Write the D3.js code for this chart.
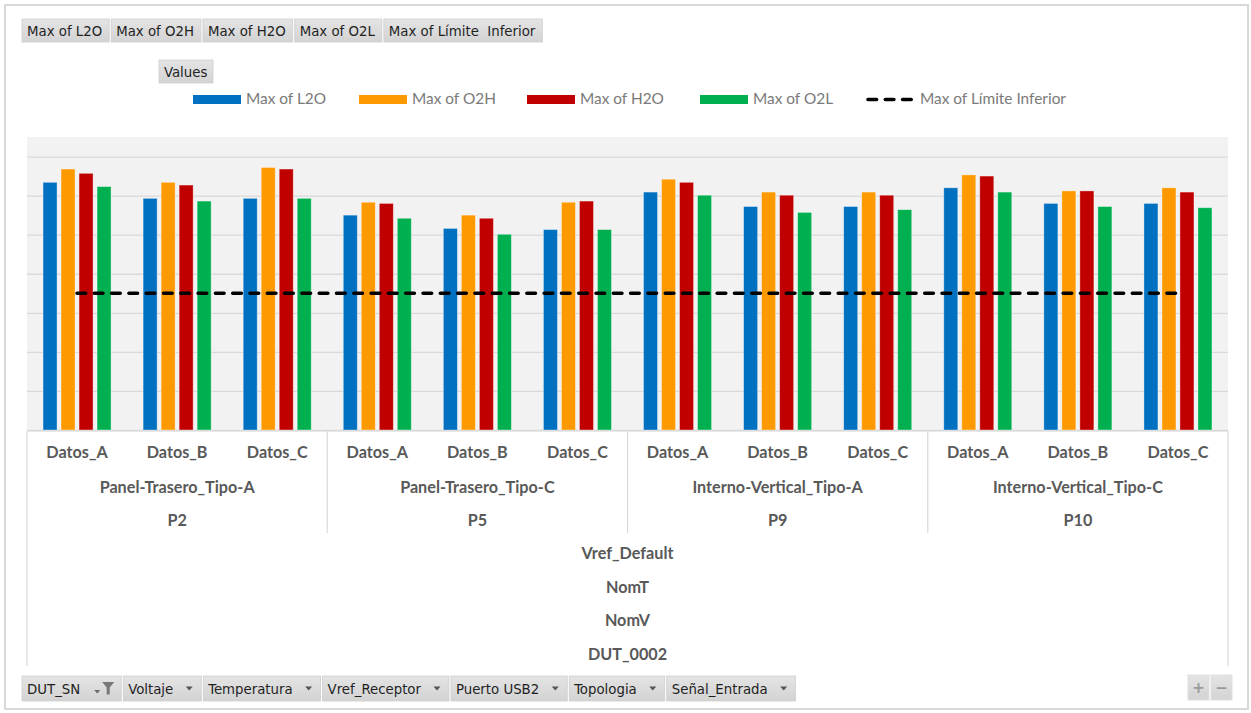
<!DOCTYPE html>
<html>
<head>
<meta charset="utf-8">
<script src="https://cdn.jsdelivr.net/npm/d3@7"></script>
<style>
  body { margin: 0; background: #fff; }
  svg { display: block; }
  .btn-text { font-family: "DejaVu Sans Condensed", "Liberation Sans Narrow", "DejaVu Sans", sans-serif; font-size: 14.8px; fill: #1f1f1f; white-space: pre; }
  .legend-text { font-family: Lato, "Open Sans", sans-serif; font-size: 15.4px; fill: #7a7a7a; }
  .cat-text { font-family: Lato, "Open Sans", sans-serif; font-size: 16.2px; font-weight: 700; fill: #595959; }
</style>
</head>
<body>
<svg id="chart" width="1251" height="713"></svg>
<script>
// ---- Data -------------------------------------------------------------
const ports      = ["P2", "P5", "P9", "P10"];
const topologies = ["Panel-Trasero_Tipo-A", "Panel-Trasero_Tipo-C", "Interno-Vertical_Tipo-A", "Interno-Vertical_Tipo-C"];
const datasets   = ["Datos_A", "Datos_B", "Datos_C"];
const outerLevels = ["Vref_Default", "NomT", "NomV", "DUT_0002"];

const seriesNames  = ["Max of L2O", "Max of O2H", "Max of H2O", "Max of O2L"];
const seriesColors = ["#0070c0", "#ff9900", "#c00000", "#00b050"];

// one value per category, in port → dataset order
const maxL2O = [63.4, 59.3, 59.3, 55.0, 51.6, 51.3, 60.9, 57.2, 57.2, 62.0, 58.0, 58.0];
const maxO2H = [66.8, 63.4, 67.2, 58.3, 55.0, 58.3, 64.2, 60.9, 60.9, 65.3, 61.2, 62.0];
const maxH2O = [65.7, 62.7, 66.8, 58.0, 54.2, 58.6, 63.4, 60.1, 60.1, 65.0, 61.2, 60.9];
const maxO2L = [62.3, 58.6, 59.3, 54.2, 50.1, 51.3, 60.1, 55.7, 56.4, 60.9, 57.2, 56.9];
const limiteInferior = [35, 35, 35, 35, 35, 35, 35, 35, 35, 35, 35, 35];
const limiteName = "Max of Límite Inferior";

const valueTicks = [0, 10, 20, 30, 40, 50, 60, 70];
const valueMax = 75;

const fieldButtons  = ["Max of L2O", "Max of O2H", "Max of H2O", "Max of O2L", "Max of Límite  Inferior"];
const filterButtons = ["DUT_SN", "Voltaje", "Temperatura", "Vref_Receptor", "Puerto USB2", "Topologia", "Señal_Entrada"];

// ---- Layout ------------------------------------------------------------
const svg = d3.select("#chart");
const plot = { left: 27, right: 1228, top: 137, bottom: 430 };
const tableBottom = 666;
const seriesValues = [maxL2O, maxO2H, maxH2O, maxO2L];

const categories = [];
ports.forEach((p, gi) => datasets.forEach(d => categories.push({ key: p + "|" + d, port: p, group: gi, label: d })));

const x0 = d3.scaleBand().domain(categories.map(c => c.key)).range([plot.left, plot.right]).padding(0);
const x1 = d3.scaleBand().domain(seriesNames).range([0, x0.bandwidth()]).paddingInner(0.222).paddingOuter(0.89);
const y  = d3.scaleLinear().domain([0, valueMax]).range([plot.bottom, plot.top]);

// gradient for the pivot field buttons
const defs = svg.append("defs");
const grad = defs.append("linearGradient").attr("id", "btnGrad").attr("x1", 0).attr("y1", 0).attr("x2", 0).attr("y2", 1);
grad.append("stop").attr("offset", "0%").attr("stop-color", "#e4e4e4");
grad.append("stop").attr("offset", "100%").attr("stop-color", "#d3d3d3");

// outer frame
svg.append("rect").attr("x", 5).attr("y", 5).attr("width", 1243).attr("height", 704)
  .attr("fill", "#fff").attr("stroke", "#d9d9d9").attr("stroke-width", 2);

// plot background
svg.append("rect").attr("x", plot.left).attr("y", plot.top)
  .attr("width", plot.right - plot.left).attr("height", plot.bottom - plot.top).attr("fill", "#f2f2f2");

// gridlines
const grid = svg.append("g").attr("transform", `translate(${plot.left},0)`)
  .call(d3.axisLeft(y).tickValues(valueTicks).tickSize(-(plot.right - plot.left)).tickFormat(""));
grid.select(".domain").remove();
grid.selectAll(".tick line").attr("stroke", "#d9d9d9").attr("stroke-width", 1.3);

// bars
const barGroups = svg.append("g").selectAll("g").data(categories).join("g")
  .attr("transform", c => `translate(${x0(c.key)},0)`);
barGroups.selectAll("rect")
  .data(c => seriesNames.map((s, si) => ({ s, si, v: seriesValues[si][categories.indexOf(c)] })))
  .join("rect")
  .attr("x", d => x1(d.s)).attr("width", x1.bandwidth())
  .attr("y", d => y(d.v)).attr("height", d => y(0) - y(d.v))
  .attr("fill", d => seriesColors[d.si])
  .attr("stroke", "rgba(255,255,255,0.45)").attr("stroke-width", 0.8);

// lower limit line
const line = d3.line().x((d, i) => x0(categories[i].key) + x0.bandwidth() / 2).y(d => y(d));
svg.append("path").datum(limiteInferior).attr("d", line)
  .attr("fill", "none").attr("stroke", "#000").attr("stroke-width", 3.6)
  .attr("stroke-dasharray", "8.6,8.7").attr("stroke-linecap", "round");

// category table lines
const tbl = svg.append("g").attr("stroke", "#d9d9d9").attr("stroke-width", 1.2).attr("fill", "none");
tbl.append("line").attr("x1", plot.left).attr("x2", plot.right).attr("y1", 431).attr("y2", 431);
tbl.append("line").attr("x1", plot.left).attr("x2", plot.left).attr("y1", 431).attr("y2", tableBottom);
tbl.append("line").attr("x1", plot.right).attr("x2", plot.right).attr("y1", 431).attr("y2", tableBottom);
ports.slice(1).forEach(p => {
  const xs = x0(p + "|" + datasets[0]);
  tbl.append("line").attr("x1", xs).attr("x2", xs).attr("y1", 431).attr("y2", 533);
});

// category labels (three nested levels)
const labels = svg.append("g");
labels.selectAll(".ds").data(categories).join("text").attr("class", "cat-text")
  .attr("x", c => x0(c.key) + x0.bandwidth() / 2).attr("y", 452).attr("dy", "0.35em")
  .attr("text-anchor", "middle").text(c => c.label);
const groupCenter = p => (x0(p + "|" + datasets[0]) + x0(p + "|" + datasets[datasets.length - 1]) + x0.bandwidth()) / 2;
labels.selectAll(".tp").data(ports).join("text").attr("class", "cat-text")
  .attr("x", groupCenter).attr("y", 487).attr("dy", "0.35em")
  .attr("text-anchor", "middle").text((p, i) => topologies[i]);
labels.selectAll(".pt").data(ports).join("text").attr("class", "cat-text")
  .attr("x", groupCenter).attr("y", 520).attr("dy", "0.35em")
  .attr("text-anchor", "middle").text(p => p);
const outerY = [553, 587, 620, 654];
labels.selectAll(".ol").data(outerLevels).join("text").attr("class", "cat-text")
  .attr("x", (plot.left + plot.right) / 2).attr("y", (d, i) => outerY[i]).attr("dy", "0.35em")
  .attr("text-anchor", "middle").text(d => d);

// legend
const legendX = [193, 359, 527, 700];
const legend = svg.append("g");
seriesNames.forEach((s, i) => {
  legend.append("rect").attr("x", legendX[i]).attr("y", 95).attr("width", 48).attr("height", 9).attr("fill", seriesColors[i]);
  legend.append("text").attr("class", "legend-text").attr("x", legendX[i] + 53).attr("y", 99).attr("dy", "0.35em").text(s);
});
legend.append("line").attr("x1", 868).attr("x2", 912).attr("y1", 99.5).attr("y2", 99.5)
  .attr("stroke", "#000").attr("stroke-width", 3.6).attr("stroke-dasharray", "8.6,8.7").attr("stroke-linecap", "round");
legend.append("text").attr("class", "legend-text").attr("x", 920).attr("y", 99).attr("dy", "0.35em").text(limiteName);

// pivot field buttons
function button(g, x, yTop, w, h, label) {
  g.append("rect").attr("x", x).attr("y", yTop).attr("width", w).attr("height", h)
    .attr("fill", "url(#btnGrad)").attr("stroke", "#cfcfcf").attr("stroke-width", 0.8);
  g.append("text").attr("class", "btn-text").attr("x", x + 5).attr("y", yTop + h / 2).attr("dy", "0.35em").text(label);
}
const topG = svg.append("g");
let bx = 22;
fieldButtons.forEach(label => {
  const t = topG.append("text").attr("class", "btn-text").text(label);
  const w = t.node().getComputedTextLength() + 12;
  t.remove();
  button(topG, bx, 19, w, 23, label);
  bx += w + 2;
});
button(topG, 159, 60, 54, 23, "Values");

// bottom filter buttons with dropdown arrows
const botG = svg.append("g");
bx = 22;
filterButtons.forEach((label, i) => {
  const t = botG.append("text").attr("class", "btn-text").text(label);
  const tw = t.node().getComputedTextLength();
  t.remove();
  const extra = i === 0 ? 41 : 28;
  const w = tw + 5 + extra;
  button(botG, bx, 676, w, 25, label);
  if (i === 0) {
    // sort arrow + filter funnel
    const ax = bx + w - 24;
    botG.append("path").attr("d", `M${ax - 3},${690} l6,0 l-3,3.5 z`).attr("fill", "#6b6b6b");
    const fx = bx + w - 13;
    botG.append("path").attr("d", `M${fx - 6},${682} l12,0 l-4.5,5.5 l0,7 l-3,0 l0,-7 z`).attr("fill", "#777");
  } else {
    const ax = bx + w - 12;
    botG.append("path").attr("d", `M${ax - 3.5},${686.5} l7,0 l-3.5,4 z`).attr("fill", "#555");
  }
  bx += w + 2;
});

// zoom buttons
const zb = svg.append("g");
[["+", 1188], ["\u2212", 1211]].forEach(([s, x]) => {
  zb.append("rect").attr("x", x).attr("y", 675).attr("width", 21).attr("height", 25).attr("fill", "url(#btnGrad)").attr("stroke", "#e0e0e0");
  zb.append("text").attr("x", x + 10.5).attr("y", 688).attr("dy", "0.35em").attr("text-anchor", "middle")
    .attr("font-family", "DejaVu Sans, sans-serif").attr("font-size", 15).attr("font-weight", "bold").attr("fill", "#9a9a9a").text(s);
});
</script>
</body>
</html>
